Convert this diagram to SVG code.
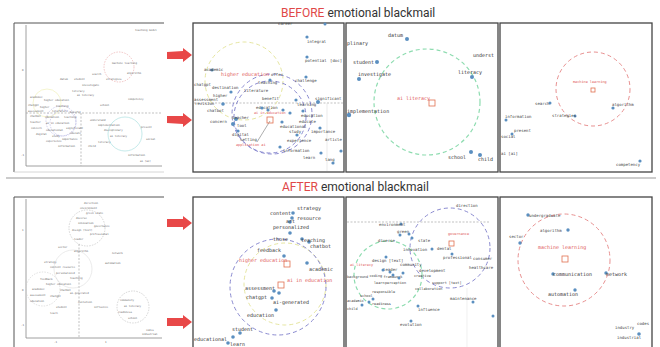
<svg xmlns="http://www.w3.org/2000/svg" width="660" height="347" viewBox="0 0 660 347">
<style>
.bg{fill:#ffffff}
.frame{fill:none;stroke:#444;stroke-width:1.3}
.axis{fill:none;stroke:#888;stroke-width:0.8}
.guide{fill:none;stroke:#999;stroke-width:0.6;stroke-dasharray:2 1.5}
.title{font-family:"Roboto","Liberation Sans",sans-serif;font-size:12px;fill:#333}
.red{fill:#e04848}
.lbl{font-family:"DejaVu Sans Mono","Liberation Mono",monospace;font-size:5px;fill:#333}
.lbs{font-family:"DejaVu Sans Mono","Liberation Mono",monospace;font-size:4px;fill:#444}
.lbx{font-family:"DejaVu Sans Mono","Liberation Mono",monospace;font-size:3.5px;fill:#444}
.tiny{font-family:"DejaVu Sans Mono","Liberation Mono",monospace;font-size:2.6px;fill:#666}
.rl{font-family:"DejaVu Sans Mono","Liberation Mono",monospace;font-size:5px;fill:#e05a5a}
.rls{font-family:"DejaVu Sans Mono","Liberation Mono",monospace;font-size:3.5px;fill:#e05a5a}
.dot{fill:#5b8fc0}
.sq{fill:none;stroke:#e07050;stroke-width:0.8}
.cy{fill:none;stroke:#e6e6a0;stroke-width:1;stroke-dasharray:4 3}
.cp{fill:none;stroke:#8a8ad0;stroke-width:1;stroke-dasharray:4 3}
.cg{fill:none;stroke:#8edcb0;stroke-width:1.2;stroke-dasharray:4 3}
.cr{fill:none;stroke:#e89090;stroke-width:1;stroke-dasharray:4 3}
.sep{stroke:#999;stroke-width:1}
.arrow{fill:#e84848}
</style>
<rect class="bg" x="0" y="0" width="660" height="347"/>

<!-- titles -->
<text class="title" x="281" y="17"><tspan class="red">BEFORE</tspan> emotional blackmail</text>
<line class="sep" x1="6" y1="178" x2="656" y2="178"/>
<text class="title" x="282" y="191"><tspan class="red">AFTER</tspan> emotional blackmail</text>

<!-- arrows -->
<g id="arrows">
<polygon class="arrow" points="167,52 183,51 183,48 192,55 183,62 183,59 167,59"/>
<polygon class="arrow" points="167,116 183,116 183,113 192,120 183,127 183,124 167,123"/>
<polygon class="arrow" points="167,219 183,219 183,216 192,223 183,230 183,227 167,227"/>
<polygon class="arrow" points="167,318 183,318 183,315 192,322 183,329 183,326 167,326"/>
</g>

<!-- ===== BEFORE: overview panel ===== -->
<g id="before-overview">
<line x1="14" y1="23" x2="164" y2="23" stroke="#555" stroke-width="1"/>
<line x1="14" y1="23" x2="14" y2="172" stroke="#555" stroke-width="1"/>
<line x1="14" y1="172" x2="164" y2="172" stroke="#ccc" stroke-width="0.8"/>
<line class="axis" x1="26" y1="25" x2="26" y2="166"/>
<line class="axis" x1="26" y1="166" x2="162" y2="166"/>
<line class="guide" x1="81" y1="113" x2="81" y2="166"/>
<line class="guide" x1="26" y1="113" x2="162" y2="113"/>
<text class="tiny" x="22" y="71">0</text>
<text class="tiny" x="21" y="156">-1</text>
<circle cx="119" cy="67" r="15" fill="none" stroke="#e8a0a0" stroke-width="0.6" stroke-dasharray="1.5 1.2"/>
<circle cx="125" cy="134" r="17" fill="none" stroke="#a0dcdc" stroke-width="0.6"/>
<circle cx="47" cy="103" r="14" fill="none" stroke="#eeeeb0" stroke-width="0.6"/>
<circle cx="61" cy="121" r="15" fill="none" stroke="#b0b0e0" stroke-width="0.6" stroke-dasharray="1.5 1.2"/>
<circle cx="63" cy="123" r="13" fill="none" stroke="#b0b0e0" stroke-width="0.6" stroke-dasharray="1.5 1.2"/>
<text class="tiny" x="135" y="31">teaching model</text>
<text class="tiny" x="112" y="64" fill="#d06060">machine learning</text>
<text class="tiny" x="127" y="74">algorithm</text>
<text class="tiny" x="92" y="75">search</text>
<text class="tiny" x="106" y="80">strategies</text>
<text class="tiny" x="60" y="80">datum</text>
<text class="tiny" x="74" y="80">student</text>
<text class="tiny" x="82" y="86">investigate</text>
<text class="tiny" x="72" y="92">literacy</text>
<text class="tiny" x="77" y="96">ai literacy</text>
<text class="tiny" x="128" y="100">competency</text>
<text class="tiny" x="100" y="106">school</text>
<text class="tiny" x="30" y="98">academic</text>
<text class="tiny" x="44" y="101" fill="#d06060">higher education</text>
<text class="tiny" x="28" y="106">chatgpt</text>
<text class="tiny" x="40" y="108">higher</text>
<text class="tiny" x="56" y="107">teaching</text>
<text class="tiny" x="28" y="112">assessment</text>
<text class="tiny" x="52" y="112">literature</text>
<text class="tiny" x="70" y="113">benefit</text>
<text class="tiny" x="30" y="117">chatbot</text>
<text class="tiny" x="45" y="118">education</text>
<text class="tiny" x="64" y="118">learning</text>
<text class="tiny" x="30" y="123">teacher</text>
<text class="tiny" x="46" y="124" fill="#d06060">ai in education</text>
<text class="tiny" x="66" y="129">significant</text>
<text class="tiny" x="31" y="129">concern</text>
<text class="tiny" x="46" y="131">educational</text>
<text class="tiny" x="70" y="134">educate</text>
<text class="tiny" x="36" y="135">digital</text>
<text class="tiny" x="52" y="137">study</text>
<text class="tiny" x="62" y="140">importance</text>
<text class="tiny" x="46" y="142">experience</text>
<text class="tiny" x="58" y="147">information</text>
<text class="tiny" x="90" y="121">understand</text>
<text class="tiny" x="98" y="126">implementation</text>
<text class="tiny" x="104" y="131">disciplinary</text>
<text class="tiny" x="110" y="137" fill="#60b0b0">ai literacy</text>
<text class="tiny" x="98" y="143">literacy</text>
<text class="tiny" x="88" y="147">child</text>
<text class="tiny" x="141" y="128">present</text>
<text class="tiny" x="146" y="140">social</text>
<text class="tiny" x="128" y="156">information</text>
<text class="tiny" x="140" y="162">ai [ai]</text>
</g>

<!-- ===== BEFORE: panel 2 ===== -->
<g id="before-higher-education">
<rect class="frame" x="193" y="23" width="151" height="149"/>
<line class="guide" x1="194" y1="103" x2="343" y2="103"/>
<line x1="327" y1="103" x2="327" y2="171" stroke="#ddd" stroke-width="0.6"/>
<circle class="cy" cx="244" cy="81" r="39"/>
<circle class="cp" cx="272" cy="114" r="40"/>
<circle class="cp" cx="270" cy="117" r="36"/>
<line x1="270" y1="121" x2="257" y2="142" stroke="#777" stroke-width="0.6"/>
<rect class="sq" x="267" y="117" width="6" height="6"/>
<text class="lbs" x="278" y="25">career</text>
<circle class="dot" cx="325" cy="24" r="1.5"/>
<circle class="dot" cx="307" cy="37" r="1.6"/><text class="lbs" x="307" y="43">integral</text>
<circle class="dot" cx="307" cy="57" r="1.6"/><text class="lbs" x="305" y="62">potential</text><text class="lbs" x="330" y="62">[doc]</text>
<circle class="dot" cx="306" cy="77" r="1.6"/><text class="lbs" x="295" y="82">challenge</text>
<circle class="dot" cx="212" cy="70" r="1.6"/><text class="lbs" x="204" y="71">academic</text>
<text class="rl" x="221" y="76">higher education</text><text class="lbs" x="271" y="76">offer</text>
<text class="lbs" x="194" y="86">chatgpt</text>
<text class="lbs" x="212" y="89">destination</text>
<circle class="dot" cx="270" cy="80" r="1.6"/><text class="lbs" x="258" y="84">teaching</text>
<text class="lbs" x="244" y="92">literature</text>
<circle class="dot" cx="231" cy="92" r="1.6"/><text class="lbs" x="213" y="97">higher</text>
<text class="lbs" x="262" y="100">benefit</text>
<text class="lbs" x="194" y="101">assessment</text><text class="lbs" x="195" y="105">revision</text>
<circle class="dot" cx="223" cy="104" r="1.8"/>
<circle class="dot" cx="296" cy="100" r="1.6"/><text class="lbs" x="297" y="106">learning</text>
<circle class="dot" cx="318" cy="102" r="2"/><text class="lbs" x="315" y="100">significant</text>
<text class="lbs" x="207" y="112">chatbot</text>
<text class="lbs" x="256" y="109">education</text>
<circle class="dot" cx="262" cy="108" r="1.6"/>
<circle class="dot" cx="268" cy="110" r="1.6"/>
<circle class="dot" cx="283" cy="110" r="1.6"/>
<circle class="dot" cx="290" cy="113" r="1.6"/>
<circle class="dot" cx="303" cy="111" r="1.6"/>
<text class="rls" x="254" y="114">ai in education</text>
<text class="lbs" x="301" y="117">education</text>
<circle class="dot" cx="236" cy="119" r="2"/><text class="lbs" x="232" y="119">teacher</text>
<text class="lbs" x="210" y="123">concern</text>
<circle class="dot" cx="233" cy="124" r="2"/>
<text class="lbs" x="237" y="127">tool</text>
<circle class="dot" cx="282" cy="122" r="1.6"/><text class="lbs" x="280" y="128">educational</text>
<text class="lbs" x="299" y="123">educate</text>
<text class="lbs" x="289" y="133">study</text>
<circle class="dot" cx="238" cy="131" r="1.6"/><text class="lbs" x="232" y="136">digital</text>
<circle class="dot" cx="320" cy="128" r="1.6"/><text class="lbs" x="311" y="133">importance</text>
<circle class="dot" cx="297" cy="135" r="1.6"/><text class="lbs" x="287" y="142">experience</text>
<text class="lbs" x="325" y="141">article</text>
<text class="lbs" x="240" y="141">setting</text>
<text class="rls" x="236" y="146">application ai</text>
<circle class="dot" cx="280" cy="147" r="1.6"/><text class="lbs" x="283" y="152">information</text>
<circle class="dot" cx="321" cy="153" r="1.6"/><text class="lbs" x="303" y="159">learn</text><text class="lbs" x="325" y="161">lang</text>
<circle class="dot" cx="333" cy="163" r="1.6"/>
<circle class="dot" cx="341" cy="151" r="1.6"/>
</g>

<!-- ===== BEFORE: panel 3 ===== -->
<g id="before-ai-literacy">
<rect class="frame" x="346" y="23" width="152" height="149"/>
<circle class="cg" cx="427" cy="102" r="53"/>
<rect class="sq" x="429" y="100" width="6" height="6"/>
<circle class="dot" cx="407" cy="39" r="2"/><text class="lbl" x="388" y="37">datum</text>
<text class="lbl" x="347" y="45">plinary</text>
<circle class="dot" cx="377" cy="62" r="2"/><text class="lbl" x="353" y="64">student</text>
<text class="lbl" x="473" y="57">underst</text>
<circle class="dot" cx="359" cy="79" r="2"/><text class="lbl" x="358" y="76">investigate</text>
<circle class="dot" cx="472" cy="77" r="2"/><text class="lbl" x="458" y="74">literacy</text>
<text class="rl" x="397" y="100">ai literacy</text>
<circle class="dot" cx="349" cy="115" r="2.2"/><text class="lbl" x="347" y="113">implementation</text>
<circle class="dot" cx="471" cy="152" r="2"/><text class="lbl" x="448" y="159">school</text>
<circle class="dot" cx="480" cy="155" r="2"/><text class="lbl" x="478" y="161">child</text>
</g>

<!-- ===== BEFORE: panel 4 ===== -->
<g id="before-machine-learning">
<rect class="frame" x="500" y="23" width="152" height="149"/>
<circle class="cr" cx="593" cy="89" r="37"/>
<text class="rls" x="573" y="83">machine learning</text>
<rect class="sq" x="591" y="88" width="4" height="4"/>
<circle class="dot" cx="613" cy="108" r="1.6"/><text class="lbs" x="612" y="106">algorithm</text>
<circle class="dot" cx="550" cy="103" r="1.5"/><text class="lbs" x="535" y="105">search</text>
<circle class="dot" cx="575" cy="116" r="1.5"/><text class="lbs" x="552" y="117">strategies</text>
<circle class="dot" cx="506" cy="120" r="1.5"/><text class="lbs" x="505" y="118">information</text>
<circle class="dot" cx="512" cy="134" r="1.5"/><text class="lbs" x="514" y="132">present</text>
<text class="lbs" x="501" y="138">social</text>
<text class="lbs" x="501" y="155">ai [ai]</text>
<circle class="dot" cx="640" cy="161" r="1.6"/><text class="lbs" x="616" y="166">competency</text>
</g>

<!-- ===== AFTER: overview panel ===== -->
<g id="after-overview">
<line x1="14" y1="197" x2="164" y2="197" stroke="#555" stroke-width="1"/>
<line x1="14" y1="197" x2="14" y2="347" stroke="#555" stroke-width="1"/>
<line class="axis" x1="26" y1="199" x2="26" y2="338"/>
<line class="axis" x1="26" y1="338" x2="162" y2="338"/>
<line class="guide" x1="79" y1="244" x2="79" y2="338"/>
<text class="tiny" x="22" y="231">1</text>
<text class="tiny" x="22" y="291">0</text>
<text class="tiny" x="21" y="326">-1</text>
<text class="tiny" x="54" y="343">-1</text>
<text class="tiny" x="105" y="343">1</text>
<circle cx="87" cy="228" r="18" fill="none" stroke="#bbb" stroke-width="0.6" stroke-dasharray="1.5 1.2"/>
<circle cx="73" cy="269" r="19" fill="none" stroke="#ddd" stroke-width="0.6"/>
<circle cx="43" cy="289" r="17" fill="none" stroke="#ccc" stroke-width="0.6" stroke-dasharray="1.5 1.2"/>
<circle cx="133" cy="307" r="16" fill="none" stroke="#bbb" stroke-width="0.6" stroke-dasharray="1.5 1.2"/>
<text class="tiny" x="84" y="204">direction</text>
<text class="tiny" x="80" y="209">environment</text>
<text class="tiny" x="86" y="214">green state</text>
<text class="tiny" x="76" y="219">diverse</text>
<text class="tiny" x="78" y="224">innovation</text>
<text class="tiny" x="94" y="227" fill="#d06060">governance</text>
<text class="tiny" x="72" y="231">design [text]</text>
<text class="tiny" x="90" y="235">professional</text>
<text class="tiny" x="74" y="240">leader</text>
<text class="tiny" x="58" y="248">sector</text>
<text class="tiny" x="74" y="252">algorithm</text>
<text class="tiny" x="112" y="254">network</text>
<text class="tiny" x="105" y="264">automation</text>
<text class="tiny" x="44" y="263">strategy</text>
<text class="tiny" x="50" y="268">content resource</text>
<text class="tiny" x="56" y="274">personalized</text>
<text class="tiny" x="70" y="279">teaching</text>
<text class="tiny" x="40" y="280">feedback</text>
<text class="tiny" x="46" y="285" fill="#d06060">higher education</text>
<text class="tiny" x="32" y="290">academic</text>
<text class="tiny" x="60" y="291">chatbot</text>
<text class="tiny" x="30" y="296">assessment</text>
<text class="tiny" x="50" y="297">chatgpt</text>
<text class="tiny" x="70" y="294">ai-generated</text>
<text class="tiny" x="30" y="302">education</text>
<text class="tiny" x="78" y="303">evolution</text>
<text class="tiny" x="56" y="308">student</text>
<text class="tiny" x="50" y="314">learn</text>
<text class="tiny" x="94" y="308">influence</text>
<text class="tiny" x="120" y="301">community</text>
<text class="tiny" x="124" y="307" fill="#d06060">ai literacy</text>
<text class="tiny" x="118" y="313">readiness</text>
<text class="tiny" x="128" y="319">school</text>
<text class="tiny" x="146" y="331">codes</text>
<text class="tiny" x="142" y="335">industrial</text>
</g>

<!-- ===== AFTER: panel 2 ===== -->
<g id="after-higher-education">
<rect class="frame" x="193" y="197" width="151" height="160"/>
<circle class="cy" cx="285" cy="284" r="41"/>
<circle class="cp" cx="278" cy="287" r="48"/>
<circle class="dot" cx="293" cy="213" r="1.8"/><text class="lbl" x="297" y="210">strategy</text>
<text class="lbl" x="270" y="215">content</text>
<circle class="dot" cx="292" cy="218" r="1.8"/><text class="lbl" x="297" y="220">resource</text>
<circle class="dot" cx="290" cy="222" r="1.8"/><text class="lbl" x="286" y="223">art</text>
<text class="lbl" x="273" y="229">personalized</text>
<circle class="dot" cx="290" cy="233" r="1.8"/>
<text class="lbl" x="273" y="241">those</text>
<circle class="dot" cx="302" cy="239" r="1.8"/><circle class="dot" cx="309" cy="242" r="1.8"/><text class="lbl" x="301" y="242">teaching</text>
<text class="lbl" x="310" y="248">chatbot</text>
<text class="lbl" x="257" y="252">feedback</text>
<circle class="dot" cx="284" cy="256" r="1.8"/>
<text class="rl" x="239" y="262">higher education</text>
<rect class="sq" x="284" y="261" width="6" height="6"/>
<circle class="dot" cx="307" cy="263" r="1.8"/><text class="lbl" x="309" y="271">academic</text>
<text class="rl" x="287" y="282">ai in education</text>
<rect class="sq" x="278" y="282" width="6" height="6"/>
<text class="lbl" x="245" y="290">assessment</text>
<circle class="dot" cx="274" cy="291" r="1.8"/><circle class="dot" cx="279" cy="293" r="1.8"/>
<text class="lbl" x="246" y="299">chatgpt</text>
<circle class="dot" cx="272" cy="298" r="1.8"/>
<text class="lbl" x="273" y="304">ai-generated</text>
<circle class="dot" cx="276" cy="310" r="1.8"/>
<text class="lbl" x="247" y="317">education</text>
<circle class="dot" cx="240" cy="333" r="1.8"/><text class="lbl" x="232" y="331">student</text>
<circle class="dot" cx="233" cy="337" r="1.8"/><text class="lbl" x="194" y="341">educational</text>
<circle class="dot" cx="228" cy="343" r="1.8"/><text class="lbl" x="230" y="346">learn</text>
</g>

<!-- ===== AFTER: panel 3 ===== -->
<g id="after-governance">
<rect class="frame" x="346" y="197" width="152" height="160"/>
<line class="guide" x1="347" y1="222" x2="490" y2="222"/>
<line x1="467" y1="288" x2="467" y2="347" stroke="#e6e6e6" stroke-width="0.6"/>
<circle class="cp" cx="450" cy="248" r="40"/>
<circle class="cg" cx="388" cy="275" r="34"/>
<text class="lbs" x="456" y="207">direction</text>
<circle class="dot" cx="401" cy="224" r="1.5"/><text class="lbs" x="379" y="226">environment</text>
<circle class="dot" cx="400" cy="235" r="1.5"/><text class="lbs" x="397" y="233">green</text>
<circle class="dot" cx="409" cy="234" r="1.5"/><circle class="dot" cx="412" cy="238" r="1.5"/>
<text class="lbs" x="378" y="242">diverse</text><text class="lbs" x="418" y="242">state</text>
<text class="rls" x="448" y="235">governance</text>
<rect class="sq" x="449" y="241" width="5" height="5"/>
<circle class="dot" cx="432" cy="249" r="1.5"/><text class="lbs" x="403" y="251">innovation</text><text class="lbs" x="437" y="250">dental</text>
<circle class="dot" cx="452" cy="254" r="1.5"/>
<text class="lbs" x="443" y="259">professional</text><text class="lbs" x="473" y="260">consumer</text>
<circle class="dot" cx="386" cy="257" r="1.5"/><text class="lbs" x="372" y="262">design [text]</text>
<text class="rls" x="350" y="266">ai literacy</text>
<text class="lbs" x="400" y="266">community</text>
<text class="lbs" x="469" y="269">healthcare</text>
<text class="lbs" x="383" y="271">leader</text><text class="lbs" x="419" y="272">development</text>
<circle class="dot" cx="383" cy="270" r="1.5"/><circle class="dot" cx="390" cy="272" r="1.5"/><circle class="dot" cx="393" cy="275" r="1.5"/>
<text class="lbx" x="347" y="278">background</text><text class="lbx" x="369.5" y="277">coding</text><text class="lbx" x="383.5" y="277.5">framework</text><text class="lbx" x="414" y="277">creative</text>
<circle class="dot" cx="403" cy="273" r="1.5"/><circle class="dot" cx="399" cy="278" r="1.5"/>
<text class="lbx" x="374" y="284">learn</text><text class="lbx" x="385" y="284">perception</text><text class="lbx" x="432" y="284">support [text]</text>
<text class="lbx" x="415" y="290">collaboration</text>
<text class="lbx" x="372" y="293">responsible</text>
<text class="lbx" x="360" y="297">school</text>
<circle class="dot" cx="373" cy="299" r="1.5"/><circle class="dot" cx="369" cy="302" r="1.5"/>
<text class="lbx" x="347" y="302">academic</text><text class="lbx" x="372" y="305">readiness</text>
<circle class="dot" cx="362" cy="305" r="1.5"/>
<text class="lbx" x="347" y="310">child</text>
<text class="lbs" x="450" y="300">maintenance</text>
<circle class="dot" cx="473" cy="302" r="1.5"/>
<circle class="dot" cx="418" cy="306" r="1.5"/><text class="lbs" x="418" y="311">influence</text>
<circle class="dot" cx="411" cy="321" r="1.5"/><text class="lbs" x="400" y="326">evolution</text>
<circle class="dot" cx="493" cy="316" r="1.5"/>
</g>

<!-- ===== AFTER: panel 4 ===== -->
<g id="after-machine-learning">
<rect class="frame" x="500" y="197" width="152" height="160"/>
<circle class="cr" cx="564" cy="260" r="46"/>
<circle class="dot" cx="528" cy="215" r="1.7"/><text class="lbs" x="529" y="217">undergraduate</text>
<circle class="dot" cx="568" cy="230" r="1.7"/><text class="lbs" x="540" y="232">algorithm</text>
<circle class="dot" cx="520" cy="243" r="1.7"/><text class="lbs" x="509" y="238">sector</text>
<text class="rl" x="538" y="249">machine learning</text>
<rect class="sq" x="562" y="256" width="6" height="6"/>
<circle class="dot" cx="553" cy="274" r="1.7"/><text class="lbl" x="553" y="276">communication</text>
<circle class="dot" cx="606" cy="273" r="1.7"/><text class="lbl" x="606" y="276">network</text>
<circle class="dot" cx="575" cy="290" r="1.7"/><text class="lbl" x="548" y="296">automation</text>
<text class="lbs" x="637" y="325">codes</text>
<text class="lbs" x="615" y="329">industry</text>
<circle class="dot" cx="639" cy="334" r="1.8"/><text class="lbs" x="617" y="339">industrial</text>
</g>
</svg>
